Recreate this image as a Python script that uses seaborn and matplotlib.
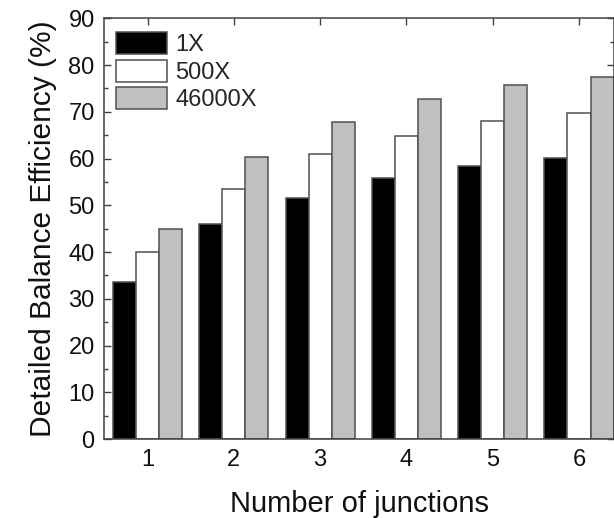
import matplotlib
matplotlib.use("Agg")
import matplotlib.pyplot as plt
from matplotlib.ticker import MultipleLocator
import seaborn as sns
import pandas as pd

junctions = ["1", "2", "3", "4", "5", "6"]
series_names = ["1X", "500X", "46000X"]
eff_1x = [33.6, 45.9, 51.6, 55.8, 58.5, 60.1]
eff_500x = [40.1, 53.6, 60.9, 64.9, 68.1, 69.8]
eff_46000x = [44.9, 60.3, 67.8, 72.7, 75.8, 77.5]
colors = ["#000000", "#ffffff", "#c0c0c0"]

rows = []
for name, vals in zip(series_names, [eff_1x, eff_500x, eff_46000x]):
    for j, v in zip(junctions, vals):
        rows.append({"junctions": j, "series": name, "eff": v})
df = pd.DataFrame(rows)

sns.set_theme(style="ticks")
plt.rcParams["font.family"] = ["Liberation Sans", "DejaVu Sans"]

fig = plt.figure(figsize=(6.14, 5.18), dpi=100)
ax = fig.add_axes([0.170, 0.1525, 0.8295, 0.812])

sns.barplot(data=df, x="junctions", y="eff", hue="series", order=junctions,
            hue_order=series_names, palette=colors, edgecolor="#505050",
            linewidth=1.1, width=0.8, saturation=1, ax=ax, errorbar=None)

ax.set_xlim(-0.5, 5.402)
ax.set_ylim(0, 90)
ax.yaxis.set_major_locator(MultipleLocator(10))
ax.yaxis.set_minor_locator(MultipleLocator(5))
ax.tick_params(axis="both", which="major", direction="in", length=4.8, width=1,
               color="#404040", labelsize=17, top=True, right=True, pad=7,
               labelcolor="#111111")
ax.tick_params(axis="y", which="minor", direction="in", length=3, width=1,
               color="#404040", right=True)
for s in ax.spines.values():
    s.set_visible(True)
    s.set_color("#404040")
    s.set_linewidth(1.1)

ax.set_xlabel("Number of junctions", fontsize=21, labelpad=14, color="#111111")
ax.set_ylabel("Detailed Balance Efficiency (%)", fontsize=21.5, labelpad=8,
              color="#111111")

handles, labels = ax.get_legend_handles_labels()
ax.legend(handles, labels, loc="upper left", bbox_to_anchor=(0.0236, 0.9667),
          frameon=False, fontsize=17, handlelength=2.16, handleheight=1.06,
          handletextpad=0.33, labelspacing=0.14, borderaxespad=0, borderpad=0)

fig.savefig("out.png", dpi=100)
